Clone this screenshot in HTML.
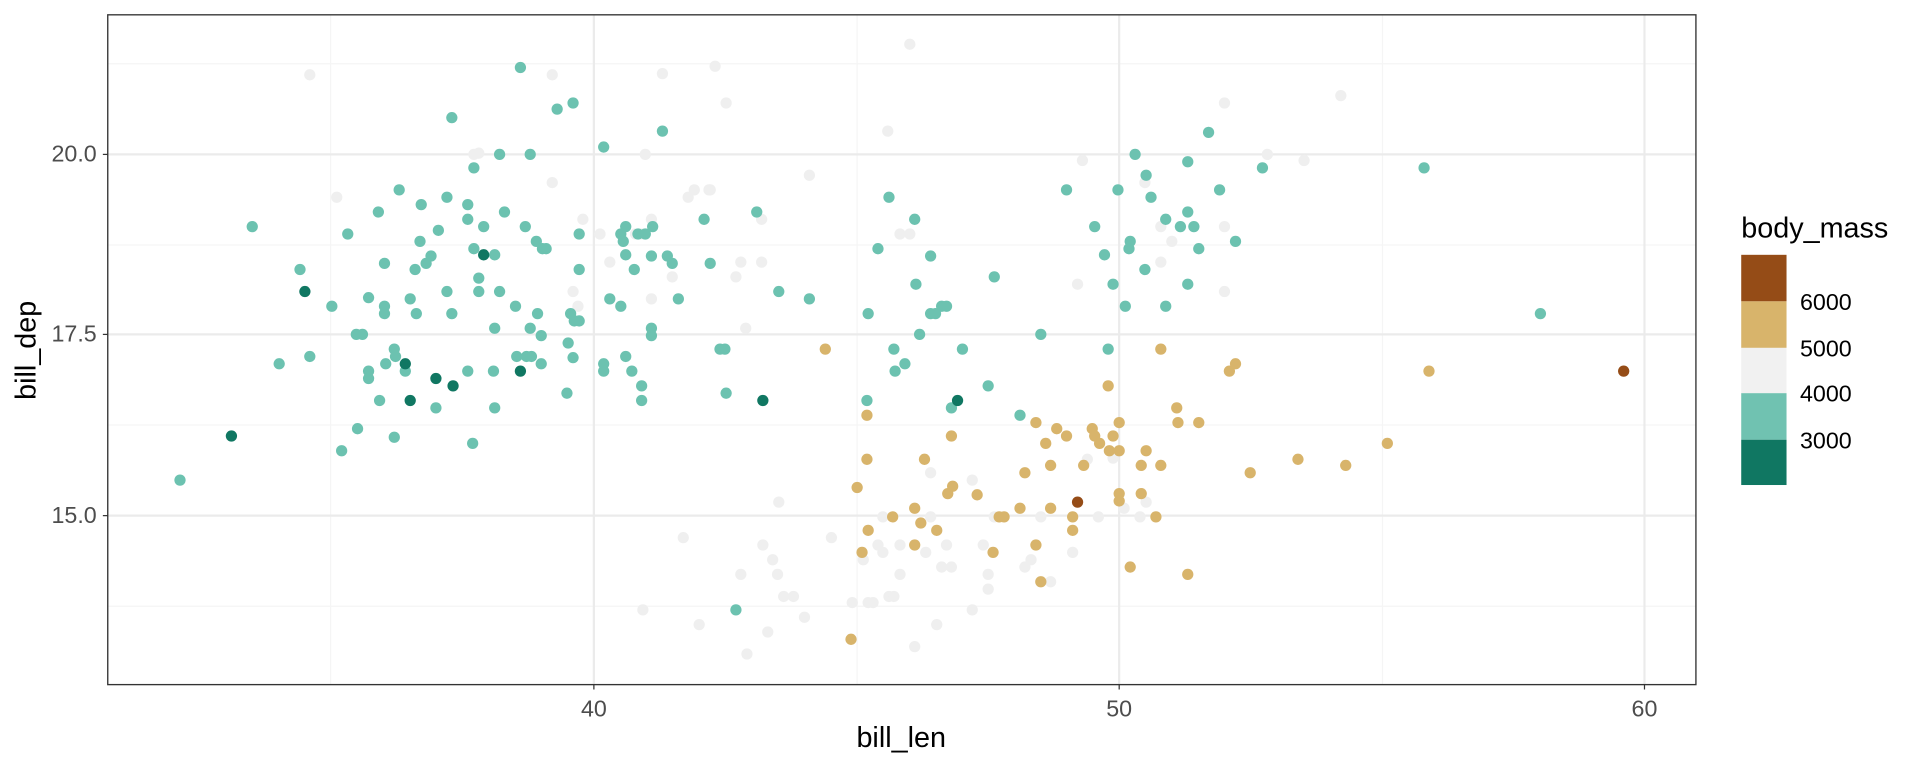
<!DOCTYPE html>
<html><head><meta charset="utf-8"><style>
html,body{margin:0;padding:0;background:#fff;}
svg{display:block;font-family:"Liberation Sans",sans-serif;}
</style></head><body>
<svg id="s" width="1920" height="768" viewBox="0 0 1568 627" xmlns="http://www.w3.org/2000/svg">
<rect x="0" y="0" width="1568" height="627" fill="#fff"/>
<g stroke="#f5f5f5" stroke-width="1">
<line x1="88" x2="1385" y1="52" y2="52"/><line x1="88" x2="1385" y1="200" y2="200"/>
<line x1="88" x2="1385" y1="347" y2="347"/><line x1="88" x2="1385" y1="495" y2="495"/>
<line y1="12" y2="559" x1="270" x2="270"/><line y1="12" y2="559" x1="700" x2="700"/><line y1="12" y2="559" x1="1129" x2="1129"/>
</g>
<g stroke="#ebebeb" stroke-width="1.8">
<line x1="88" x2="1385" y1="126" y2="126"/><line x1="88" x2="1385" y1="273" y2="273"/><line x1="88" x2="1385" y1="421" y2="421"/>
<line y1="12" y2="559" x1="485" x2="485"/><line y1="12" y2="559" x1="914" x2="914"/><line y1="12" y2="559" x1="1343" x2="1343"/>
</g>
<g id="pts"></g>
<rect x="88" y="12" width="1297" height="547" fill="none" stroke="#333" stroke-width="1.1"/>
<g stroke="#333" stroke-width="1">
<line x1="84" x2="88" y1="126" y2="126"/><line x1="84" x2="88" y1="273" y2="273"/><line x1="84" x2="88" y1="421" y2="421"/>
<line y1="559" y2="563" x1="485" x2="485"/><line y1="559" y2="563" x1="914" x2="914"/><line y1="559" y2="563" x1="1343" x2="1343"/>
</g>
<g fill="#4d4d4d" font-size="19">
<text x="79" y="132" text-anchor="end">20.0</text><text x="79" y="279" text-anchor="end">17.5</text><text x="79" y="427" text-anchor="end">15.0</text>
<text x="485" y="585" text-anchor="middle">40</text><text x="914" y="585" text-anchor="middle">50</text><text x="1343" y="585" text-anchor="middle">60</text>
</g>
<text x="736" y="610" font-size="23.5" text-anchor="middle">bill_len</text>
<text transform="translate(29,286) rotate(-90)" font-size="23.5" text-anchor="middle">bill_dep</text>
<text x="1422" y="194" font-size="23.5">body_mass</text>
<rect x="1422" y="208" width="37" height="38" fill="#954c17"/>
<rect x="1422" y="246" width="37" height="38" fill="#d8b46b"/>
<rect x="1422" y="284" width="37" height="37" fill="#f1f1f1"/>
<rect x="1422" y="321" width="37" height="38" fill="#70c2b1"/>
<rect x="1422" y="359" width="37" height="37" fill="#107762"/>
<g font-size="19" fill="#000">
<text x="1470" y="253">6000</text><text x="1470" y="291">5000</text><text x="1470" y="328">4000</text><text x="1470" y="366">3000</text>
</g>
</svg>
<script>
var T=[[147,392],[206,185],[228,297],[245,220],[253,291],[271,250],[279,368],[284,191],[292,350],[291,273],[296,273],[301,243],[301,303],[301,309],[309,173],[310,327],[314,215],[314,250],[314,256],[315,297],[322,357],[322,285],[323,291],[326,155],[331,303],[335,244],[339,220],[340,256],[343,197],[344,167],[348,215],[352,209],[356,333],[358,188],[365,161],[365,238],[369,96],[369,256],[382,303],[382,167],[382,179],[386,362],[387,137],[387,203],[391,227],[391,238],[395,185],[403,303],[404,268],[404,333],[404,208],[408,126],[408,238],[412,173],[421,250],[422,291],[429,185],[430,291],[433,126],[433,268],[434,291],[438,197],[439,256],[442,274],[442,297],[443,203],[446,203],[425,55],[455,89],[468,84],[464,280],[463,321],[466,256],[468,292],[469,262],[473,262],[473,220],[473,191],[493,120],[493,297],[493,303],[498,244],[507,250],[507,191],[509,197],[511,291],[511,208],[511,185],[516,303],[518,220],[521,191],[524,315],[524,327],[527,191],[532,268],[532,274],[532,209],[533,185],[541,107],[545,209],[549,215],[554,244],[575,179],[580,215],[588,285],[592,285],[593,321],[601,498],[618,173],[636,238],[661,244],[709,256],[717,203],[726,161],[730,285],[731,303],[739,297],[747,179],[748,232],[751,273],[760,209],[760,256],[764,256],[769,250],[773,250],[777,333],[786,285],[807,315],[812,226],[833,339],[850,273],[871,155],[894,185],[902,208],[905,285],[909,232],[913,155],[919,250],[922,203],[923,197],[927,126],[935,220],[936,143],[940,161],[952,250],[952,179],[964,185],[970,232],[970,173],[970,132],[975,185],[979,203],[987,108],[996,155],[1009,197],[1031,137],[1163,137],[1258,256],[708,327]];
var D=[[189,356],[249,238],[331,297],[335,327],[356,309],[370,315],[395,208],[425,303],[623,327],[782,327]];
var N=[[674,285],[700,398],[695,522],[704,451],[708,339],[708,375],[709,433],[729,422],[747,415],[747,445],[752,427],[755,375],[765,433],[774,403],[777,356],[778,397],[798,404],[811,451],[816,422],[820,422],[833,415],[837,386],[846,345],[846,445],[850,475],[854,362],[858,380],[858,415],[863,350],[871,356],[876,422],[876,433],[885,380],[892,350],[894,356],[898,362],[905,315],[906,368],[909,356],[914,345],[914,368],[914,403],[914,409],[923,463],[932,380],[932,403],[936,368],[944,422],[948,380],[948,285],[961,333],[962,345],[970,469],[979,345],[1004,303],[1009,297],[1021,386],[1060,375],[1099,380],[1133,362],[1167,303]];
var B=[[880,410],[1326,303]];
var L=[[253,61],[275,161],[387,126],[391,125],[451,61],[451,149],[468,238],[472,250],[476,179],[490,191],[498,214],[519,191],[524,191],[527,126],[532,179],[532,244],[541,60],[549,226],[558,439],[562,161],[567,155],[571,510],[580,155],[584,54],[593,84],[601,226],[605,214],[609,268],[610,534],[605,469],[622,179],[622,214],[623,445],[627,516],[631,457],[635,469],[636,410],[640,487],[648,487],[657,504],[661,143],[679,439],[696,492],[705,457],[709,492],[713,492],[717,445],[721,451],[721,422],[726,487],[730,487],[735,469],[735,445],[743,36],[747,528],[756,451],[760,386],[760,422],[765,510],[769,463],[773,445],[777,463],[794,498],[794,392],[803,445],[807,469],[807,481],[812,422],[837,463],[842,457],[850,422],[858,475],[876,451],[880,232],[884,131],[888,375],[897,422],[909,374],[918,415],[931,422],[935,149],[936,410],[948,185],[948,214],[957,197],[1000,185],[1000,238],[1000,84],[1035,126],[1065,131],[1095,78],[725,107],[735,191],[743,191],[525,498],[579,155]];
var g=document.getElementById('pts'),h='';
function add(a,c){a.forEach(function(p){h+='<circle cx="'+p[0]+'" cy="'+p[1]+'" r="4.6" fill="'+c+'"/>';});}
add(L,'#efefef');add(T,'#6cc2b0');add(N,'#d8b46b');add(D,'#107762');add(B,'#954c17');
g.innerHTML=h;
</script>
</body></html>
